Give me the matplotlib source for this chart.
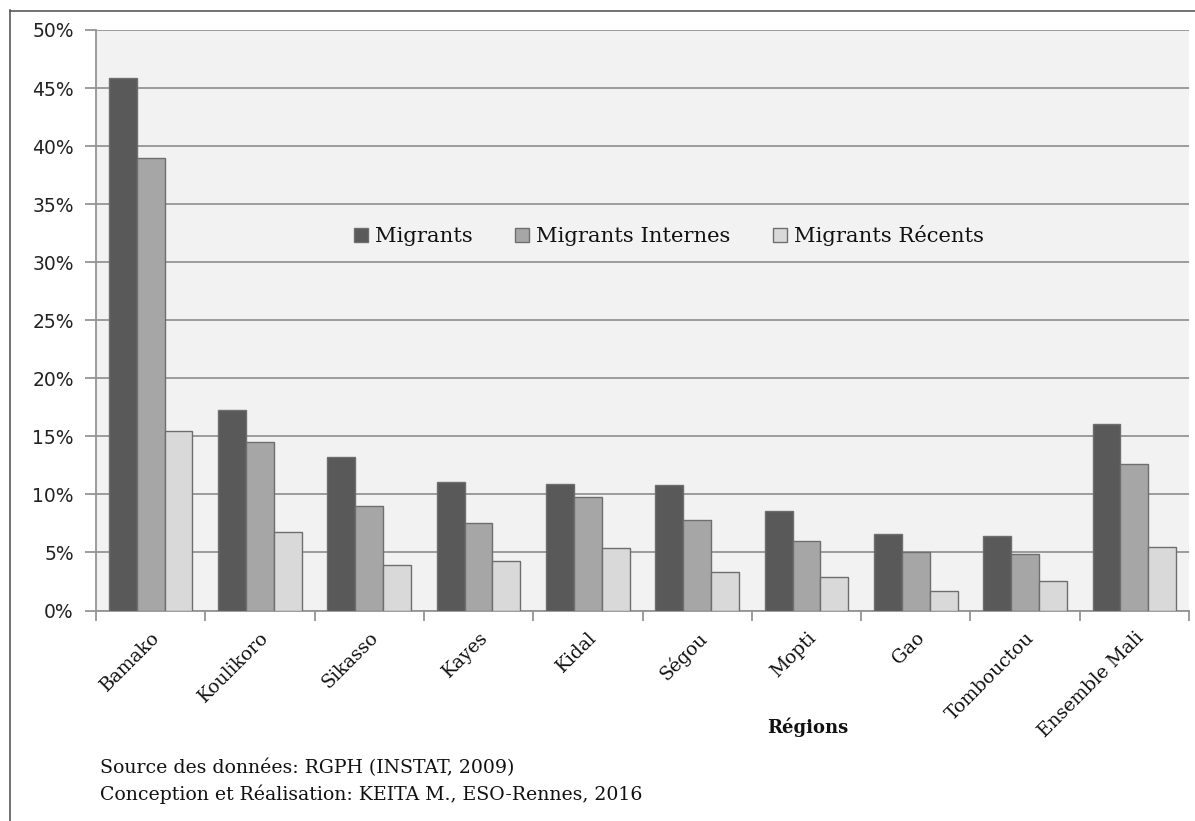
import matplotlib
matplotlib.use("Agg")
import matplotlib.pyplot as plt
import numpy as np
from matplotlib.lines import Line2D

regions = ["Bamako", "Koulikoro", "Sikasso", "Kayes", "Kidal", "Ségou",
           "Mopti", "Gao", "Tombouctou", "Ensemble Mali"]
migrants = [45.9, 17.3, 13.2, 11.1, 10.9, 10.8, 8.6, 6.6, 6.4, 16.1]
migrants_internes = [39.0, 14.5, 9.0, 7.5, 9.8, 7.8, 6.0, 5.0, 4.9, 12.6]
migrants_recents = [15.5, 6.8, 3.9, 4.3, 5.4, 3.3, 2.9, 1.7, 2.5, 5.5]
series_names = ["Migrants", "Migrants Internes", "Migrants Récents"]
colors = ["#595959", "#a6a6a6", "#d9d9d9"]
yticks = [0, 5, 10, 15, 20, 25, 30, 35, 40, 45, 50]
ytick_labels = [f"{v}%" for v in yticks]

SERIF = "DejaVu Serif"

W, H = 1195, 821
fig = plt.figure(figsize=(W / 100, H / 100), dpi=100)
fig.patch.set_facecolor("white")

# outer frame lines (left and top)
fig.add_artist(Line2D([10 / W, 10 / W], [0, 1 - 10 / H], transform=fig.transFigure,
                      color="#5a5a5a", lw=1.2))
fig.add_artist(Line2D([10 / W, 1], [1 - 11 / H, 1 - 11 / H], transform=fig.transFigure,
                      color="#5a5a5a", lw=1.2))

ax = fig.add_axes([96 / W, 1 - 610.5 / H, (1189 - 96) / W, (610.5 - 30) / H])
ax.set_facecolor("#f2f2f2")

x = np.arange(len(regions))
bw = 0.255
data = [migrants, migrants_internes, migrants_recents]
for i, (vals, col, name) in enumerate(zip(data, colors, series_names)):
    ax.bar(x + (i - 1) * bw, vals, width=bw, color=col, edgecolor="#6e6e6e",
           linewidth=1.0, label=name, zorder=3)

ax.set_xlim(-0.5, len(regions) - 0.5)
ax.set_ylim(0, 50)
ax.set_yticks(yticks)
ax.set_yticklabels(ytick_labels, fontsize=13.5, family="DejaVu Sans", color="#222222")
ax.yaxis.grid(True, color="#949494", lw=1.3, zorder=1)
ax.set_axisbelow(True)

# x ticks at group boundaries, labels at centers
ax.set_xticks(np.arange(len(regions) + 1) - 0.5)
ax.set_xticklabels([])
ax.set_xticks(x, minor=True)
ax.set_xticklabels(regions, minor=True, rotation=45, ha="right", rotation_mode="anchor",
                   fontsize=13.5, family=SERIF, color="#111111")
ax.tick_params(axis="x", which="minor", length=0, pad=13)
ax.tick_params(axis="x", which="major", length=7, color="#949494", width=1.3)
ax.tick_params(axis="y", length=8, color="#949494", width=1.3, pad=8)

for s in ["top", "right"]:
    ax.spines[s].set_visible(False)
for s in ["left", "bottom"]:
    ax.spines[s].set_color("#949494")
    ax.spines[s].set_linewidth(1.3)

leg = ax.legend(loc="center", bbox_to_anchor=((669 - 96) / (1189 - 96), (610.5 - 236) / (610.5 - 30)),
                ncol=3, frameon=False, handlelength=0.65, handleheight=0.65,
                handletextpad=0.35, columnspacing=2.0,
                prop={"family": SERIF, "size": 15.2})
for t in leg.get_texts():
    t.set_color("#111111")

fig.text(808 / W, 1 - 727 / H, "Régions", ha="center", va="center",
         fontsize=13, fontweight="bold", family=SERIF, color="#111111")
fig.text(100 / W, 1 - 768 / H, "Source des données: RGPH (INSTAT, 2009)", ha="left",
         va="center", fontsize=13.6, family=SERIF, color="#111111")
fig.text(100 / W, 1 - 794 / H, "Conception et Réalisation: KEITA M., ESO-Rennes, 2016",
         ha="left", va="center", fontsize=13.6, family=SERIF, color="#111111")

fig.savefig("out.png", dpi=100, facecolor="white")
